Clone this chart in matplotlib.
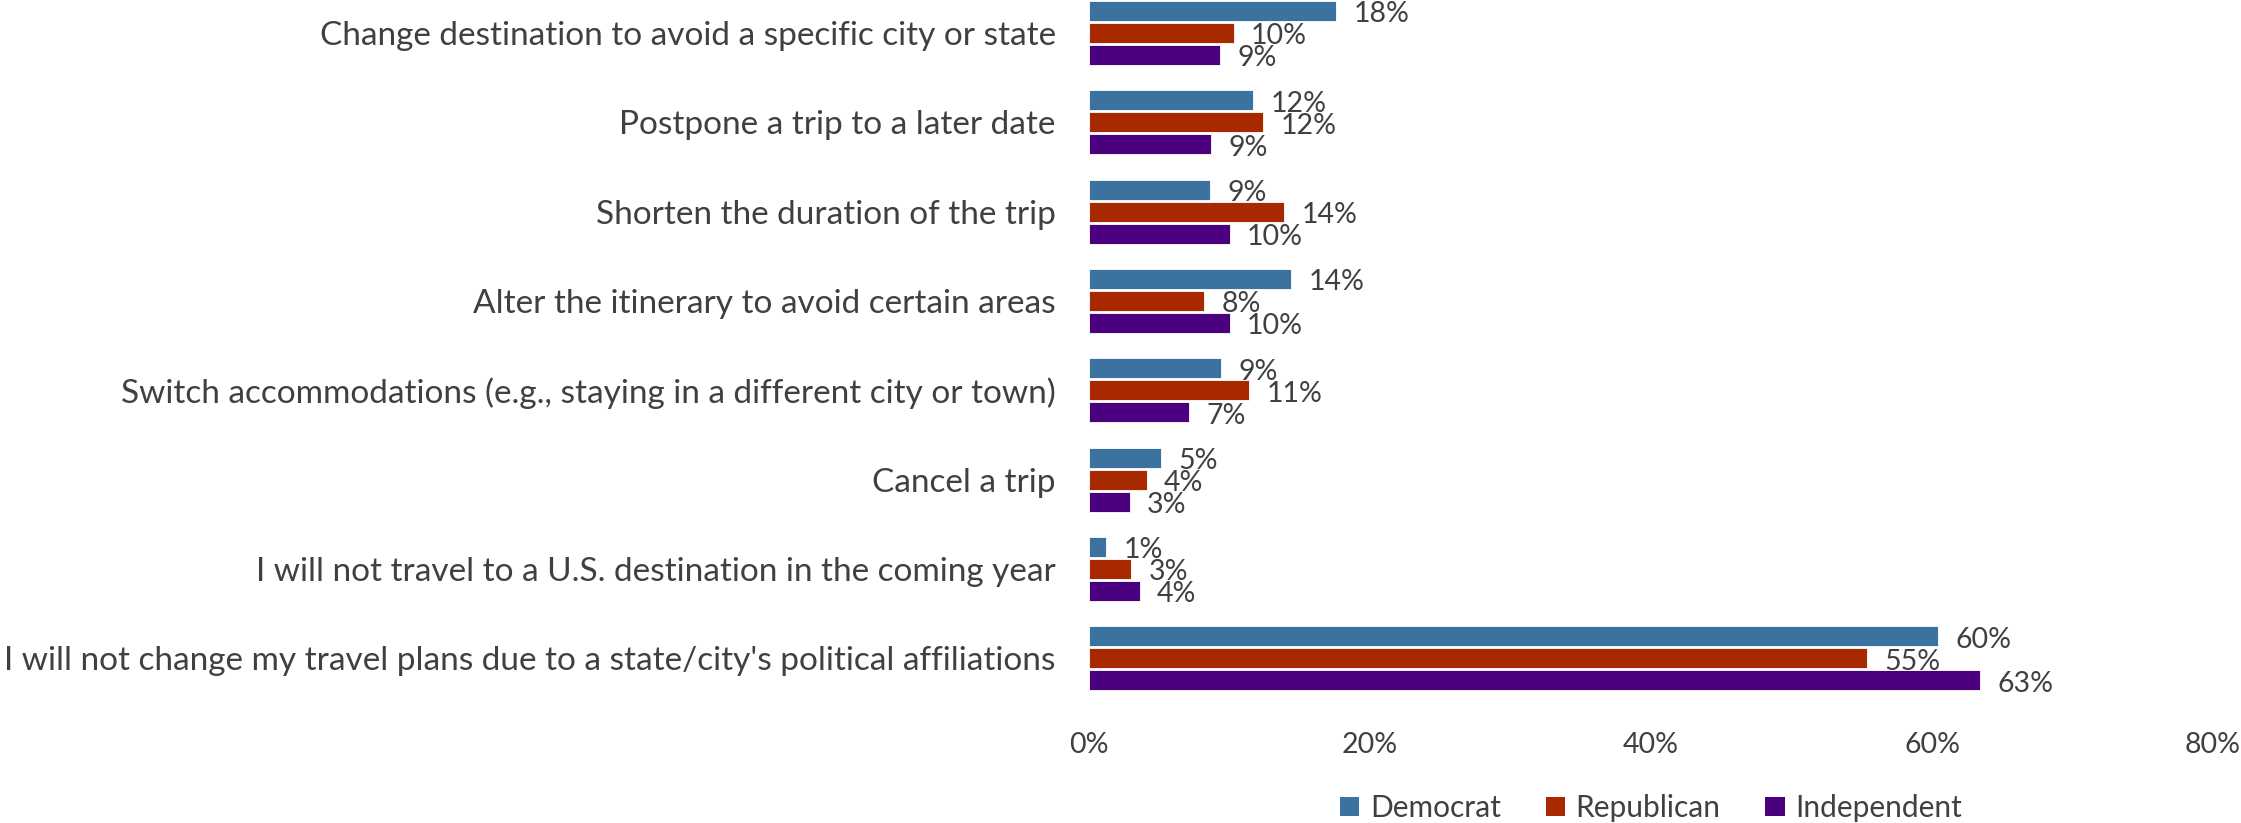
import matplotlib
matplotlib.use("Agg")
import matplotlib.pyplot as plt
from matplotlib.patches import Patch

# survey answers, top to bottom
categories = [
    "Change destination to avoid a specific city or state",
    "Postpone a trip to a later date",
    "Shorten the duration of the trip",
    "Alter the itinerary to avoid certain areas",
    "Switch accommodations (e.g., staying in a different city or town)",
    "Cancel a trip",
    "I will not travel to a U.S. destination in the coming year",
    "I will not change my travel plans due to a state/city's political affiliations",
]
democrat = [17.6, 11.7, 8.6, 14.4, 9.4, 5.1, 1.2, 60.4]
republican = [10.3, 12.4, 13.9, 8.2, 11.4, 4.1, 3.0, 55.4]
independent = [9.3, 8.7, 10.0, 10.0, 7.1, 2.9, 3.6, 63.4]

series = ["Democrat", "Republican", "Independent"]
colors = ["#3B72A0", "#A82800", "#4B007F"]
xticks = [0, 20, 40, 60, 80]

text_color = "#404040"
plt.rcParams["font.family"] = ["Lato", "DejaVu Sans"]

fig = plt.figure(figsize=(22.41, 8.23), dpi=100)
ax = fig.add_axes([0.486, 0.1458, 0.5015, 0.8542])

step = 0.246
height = 0.224
for k, (name, vals, col) in enumerate(zip(series, [democrat, republican, independent], colors)):
    ys = [i + (k - 1) * step for i in range(len(categories))]
    ax.barh(ys, vals, height=height, color=col, edgecolor="white",
            linewidth=0.6, label=name)
    # value labels just past the bar end
    for y, v in zip(ys, vals):
        ax.annotate(f"{v:.0f}%", (v, y), xytext=(12.5, -2.5), textcoords="offset points",
                    ha="left", va="center", fontsize=20.5, color=text_color)

ax.set_ylim(7.5, -0.369)
ax.set_xlim(0, 80)
ax.set_yticks(range(len(categories)))
ax.set_yticklabels(categories, fontsize=24, color=text_color)
ax.set_xticks(xticks)
ax.set_xticklabels([f"{t}%" for t in xticks], fontsize=20.5, color=text_color)
ax.tick_params(axis="both", length=0)
ax.tick_params(axis="y", pad=24)
ax.tick_params(axis="x", pad=21)
for s in ax.spines.values():
    s.set_visible(False)

handles = [Patch(facecolor=c, edgecolor="none") for c in colors]
fig.legend(handles, series, loc="center", bbox_to_anchor=(0.7367, 0.0182), ncol=3,
           frameon=False, fontsize=21.5, handlelength=0.65, handleheight=0.65,
           handletextpad=0.35, columnspacing=1.5, labelcolor=text_color)

fig.savefig("out.png", dpi=100)
